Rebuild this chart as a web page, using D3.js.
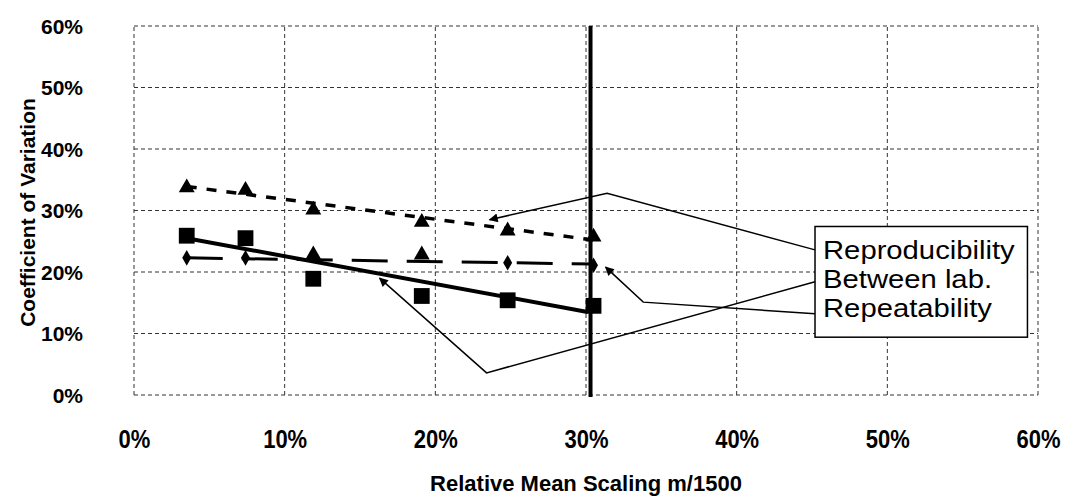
<!DOCTYPE html>
<html><head><meta charset="utf-8">
<script src="https://cdn.jsdelivr.net/npm/d3@7"></script>
<style>body{margin:0;background:#fff}svg{display:block}text{font-family:"Liberation Sans",Arial,sans-serif}</style>
</head><body>
<svg id="c" width="1068" height="502"></svg>
<script>
// ---- data (percent) ----
const xTickValues = [0, 10, 20, 30, 40, 50, 60];
const yTickValues = [0, 10, 20, 30, 40, 50, 60];
const scaling = [3.5, 7.4, 11.9, 19.1, 24.8, 30.5];
const reproducibility = [33.7, 33.3, 30.1, 28.1, 26.7, 25.7];
const betweenLab = [25.9, 25.5, 18.9, 16.1, 15.4, 14.5];
const repeatability = [22.3, 22.3, 22.8, 22.8, 21.5, 21.1];
const repeatabilitySymbols = ["diamond", "diamond", "triangle", "triangle", "diamond", "diamond"];
const reproTrendX = [3.5, 30.5], reproTrendY = [33.9, 25.2];
const betweenTrendX = [3.5, 30.1], betweenTrendY = [25.5, 13.5];
const repeatTrendX = [3.5, 30.5], repeatTrendY = [22.3, 21.3];
const refLineX = 30.3;
const legendLabels = ["Reproducibility", "Between lab.", "Repeatability"];
const legendBoxX = [45.2, 59.3], legendBoxY = [27.4, 9.4];
// leader lines: [start, vertex, tip] in data units
const leaderX = [[45.2, 31.4, 23.6], [45.2, 23.4, 16.3], [45.2, 33.8, 31.3]];
const leaderY = [[23.6, 32.8, 28.5], [18.4, 3.6, 19.0], [13.2, 15.1, 20.8]];
const xTitle = "Relative Mean Scaling m/1500";
const yTitle = "Coefficient of Variation";

// ---- layout ----
const L = 134, T = 26, W = 904, H = 369;
const svg = d3.select("#c");
const x = d3.scaleLinear().domain([0, 60]).range([L, L + W]);
const y = d3.scaleLinear().domain([0, 60]).range([T + H, T]);
const fmt = d => d + "%";

// arrow marker
svg.append("defs").append("marker")
  .attr("id", "arr").attr("viewBox", "0 0 10 10").attr("refX", 9).attr("refY", 5)
  .attr("markerWidth", 12).attr("markerHeight", 9).attr("markerUnits", "userSpaceOnUse")
  .attr("orient", "auto")
  .append("path").attr("d", "M0,0 L10,5 L0,10 Z").attr("fill", "#000");

// grid
const g = svg.append("g");
g.selectAll("line.v").data(xTickValues).join("line")
  .attr("x1", d => x(d)).attr("x2", d => x(d)).attr("y1", y(0)).attr("y2", y(60))
  .attr("stroke", "#333").attr("stroke-width", 1).attr("stroke-dasharray", "4,3");
g.selectAll("line.h").data(yTickValues).join("line")
  .attr("x1", x(0)).attr("x2", x(60)).attr("y1", d => y(d)).attr("y2", d => y(d))
  .attr("stroke", "#333").attr("stroke-width", 1).attr("stroke-dasharray", "4,3");

// x axis labels
const xAxis = d3.axisBottom(x).tickValues(xTickValues).tickFormat(fmt).tickSize(0).tickPadding(0);
const xa = svg.append("g").attr("transform", `translate(0,${T + H + 53})`).call(xAxis);
xa.select(".domain").remove();
xa.selectAll(".tick text").attr("font-size", 22).attr("font-weight", "bold").attr("fill", "#000")
  .attr("y", 0).attr("dy", 0).attr("transform", "scale(1,1.15)");

// y axis labels
const yAxis = d3.axisLeft(y).tickValues(yTickValues).tickFormat(fmt).tickSize(0).tickPadding(51);
const ya = svg.append("g").attr("transform", `translate(${L},0)`).call(yAxis);
ya.select(".domain").remove();
ya.selectAll(".tick text").attr("font-size", 21).attr("font-weight", "bold").attr("fill", "#000")
  .attr("dy", "0.35em");

// titles
svg.append("text").attr("x", x(30)).attr("y", 491).attr("text-anchor", "middle")
  .attr("font-size", 22).attr("font-weight", "bold").text(xTitle);
svg.append("text").attr("transform", `translate(35,${y(30) + 2}) rotate(-90)`)
  .attr("text-anchor", "middle").attr("font-size", 21).attr("font-weight", "bold").text(yTitle);

// reference vertical line
svg.append("line").attr("x1", x(refLineX)).attr("x2", x(refLineX)).attr("y1", y(60)).attr("y2", y(0) + 2)
  .attr("stroke", "#000").attr("stroke-width", 4);

// trend lines
const line = d3.line().x(d => x(d[0])).y(d => y(d[1]));
svg.append("path").attr("d", line(d3.zip(reproTrendX, reproTrendY)))
  .attr("fill", "none").attr("stroke", "#000").attr("stroke-width", 3.5).attr("stroke-dasharray", "10,10");
svg.append("path").attr("d", line(d3.zip(repeatTrendX, repeatTrendY)))
  .attr("fill", "none").attr("stroke", "#000").attr("stroke-width", 3).attr("stroke-dasharray", "36,19");
svg.append("path").attr("d", line(d3.zip(betweenTrendX, betweenTrendY)))
  .attr("fill", "none").attr("stroke", "#000").attr("stroke-width", 4);

// markers
const triSym = d3.symbol().type(d3.symbolTriangle).size(110);
const diaSym = d3.symbol().type(d3.symbolDiamond).size(70);
const sqSym = d3.symbol().type(d3.symbolSquare).size(250);
svg.append("g").selectAll("path").data(d3.zip(scaling, reproducibility)).join("path")
  .attr("transform", d => `translate(${x(d[0])},${y(d[1])})`).attr("d", triSym()).attr("fill", "#000");
svg.append("g").selectAll("path").data(d3.zip(scaling, repeatability, repeatabilitySymbols)).join("path")
  .attr("transform", d => `translate(${x(d[0])},${y(d[1])})`)
  .attr("d", d => d[2] === "triangle" ? triSym() : diaSym()).attr("fill", "#000");
svg.append("g").selectAll("path").data(d3.zip(scaling, betweenLab)).join("path")
  .attr("transform", d => `translate(${x(d[0])},${y(d[1])})`).attr("d", sqSym()).attr("fill", "#000");

// legend box
svg.append("rect").attr("x", x(legendBoxX[0])).attr("y", y(legendBoxY[0]))
  .attr("width", x(legendBoxX[1]) - x(legendBoxX[0])).attr("height", y(legendBoxY[1]) - y(legendBoxY[0]))
  .attr("fill", "#fff").attr("stroke", "#000").attr("stroke-width", 1.5);
const lgTop = y(legendBoxY[0]);
svg.append("g").selectAll("text").data(legendLabels).join("text")
  .attr("transform", (d, i) => `translate(${x(legendBoxX[0]) + 8},${lgTop + 33 + i * 29}) scale(1.17,1)`)
  .attr("font-size", 25).attr("fill", "#000").text(d => d);

// leader lines with arrows
leaderX.forEach((xs, i) => {
  svg.append("path").attr("d", line(d3.zip(xs, leaderY[i])))
    .attr("fill", "none").attr("stroke", "#000").attr("stroke-width", 1.5)
    .attr("marker-end", "url(#arr)");
});
</script>
</body></html>
